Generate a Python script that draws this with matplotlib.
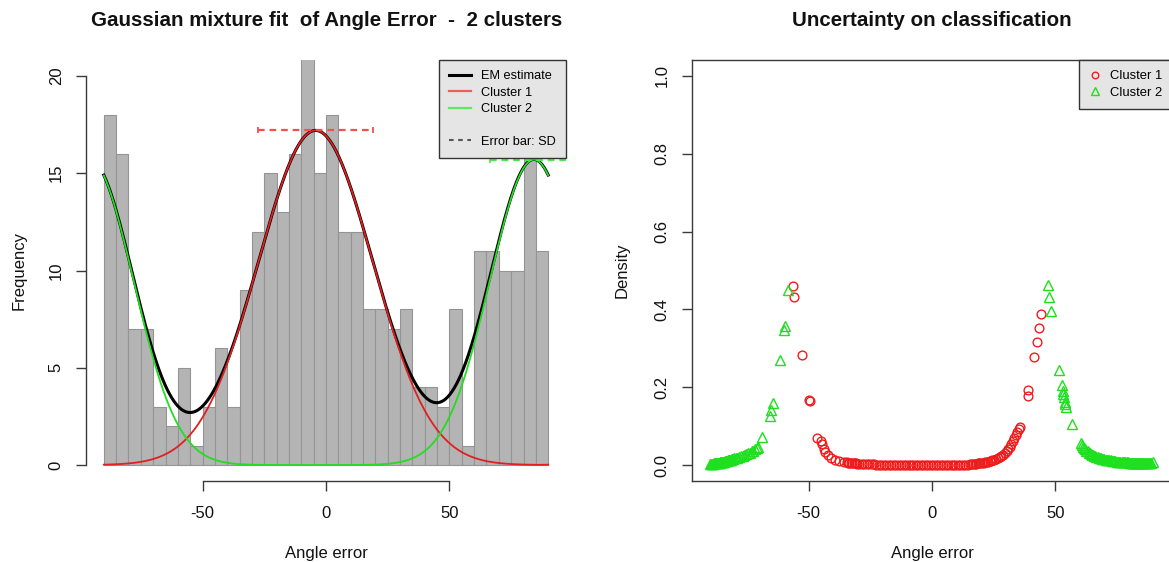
import numpy as np
import matplotlib
matplotlib.use("Agg")
import matplotlib.pyplot as plt
from matplotlib.lines import Line2D

plt.rcParams['font.family'] = ['Liberation Sans', 'DejaVu Sans']
plt.rcParams['axes.unicode_minus'] = False

# ---------------- data ----------------
left_title = "Gaussian mixture fit  of Angle Error  -  2 clusters"
right_title = "Uncertainty on classification"
x_label = "Angle error"

bin_edges = [-90, -85, -80, -75, -70, -65, -60, -55, -50, -45, -40, -35, -30, -25,
             -20, -15, -10, -5, 0, 5, 10, 15, 20, 25, 30, 35, 40, 45, 50, 55, 60,
             65, 70, 75, 80, 85, 90]
counts = [18, 16, 7, 7, 3, 2, 5, 1, 3, 6, 3, 9, 12, 15, 13, 16, 21, 15, 18, 12, 12,
          8, 8, 7, 8, 4, 4, 3, 8, 1, 11, 11, 10, 10, 16, 11]

# fitted mixture components: mean, sd, peak height
comp_names = ["Cluster 1", "Cluster 2"]
comp_mean = [-4.2, 84.2]
comp_sd = [23.2, 17.8]
comp_peak = [17.2, 15.7]
angle_period = 180.0

legend_left_labels = ["EM estimate", "Cluster 1", "Cluster 2", "", "Error bar: SD"]

# uncertainty scatter: cluster 2 (green triangles)
c2_x = [-89.8, -89.5, -89.2, -88.9, -88.6, -88.3, -88.0, -87.7, -87.4, -87.1, -86.8, -86.5,
        -86.2, -85.9, -85.7, -85.5, -85.3, -85.1,
        -84.8, -84.5, -84.2, -83.9, -83.6, -83.3, -83.0, -82.7, -82.4, -82.1, -81.8, -81.5,
        -81.2, -80.9, -80.6, -80.3,
        -79.5, -78.8, -78.1, -77.4, -76.7, -76.0, -75.3,
        -74.5, -73.8, -73.1, -72.4, -71.7, -71.0, -70.3,
        -68.9, -65.6, -65.1, -64.4, -61.5, -59.8, -59.6, -58.2,
        46.8, 47.5, 48.2,
        51.6, 52.5, 53.0, 53.2, 53.5, 53.8, 54.0, 54.2,
        56.6,
        60.2, 60.6, 61.0, 61.5, 62.0, 62.5, 63.0, 63.5, 64.0, 64.4, 64.8,
        65.3, 65.7, 66.2, 66.6, 67.1, 67.5, 68.0, 68.4, 68.9, 69.3, 69.7,
        70.3, 70.8, 71.3, 71.8, 72.3, 72.8, 73.3, 73.8, 74.3, 74.8,
        75.3, 75.8, 76.3, 76.8, 77.3, 77.8, 78.3, 78.8, 79.3, 79.8,
        80.2, 80.5, 80.8, 81.1, 81.4, 81.7, 82.0, 82.3, 82.6, 82.9, 83.2, 83.5, 83.8, 84.1,
        84.4, 84.7,
        85.2, 85.6, 86.0, 86.4, 86.8, 87.2, 87.6, 88.0, 88.4, 88.8, 89.4]
c2_u = [0.002, 0.002, 0.003, 0.003, 0.003, 0.004, 0.004, 0.004, 0.005, 0.005, 0.005, 0.006,
        0.006, 0.006, 0.007, 0.007, 0.007, 0.008,
        0.008, 0.009, 0.009, 0.010, 0.010, 0.011, 0.011, 0.012, 0.012, 0.013, 0.013, 0.014,
        0.015, 0.015, 0.016, 0.017,
        0.018, 0.019, 0.021, 0.022, 0.024, 0.026, 0.028,
        0.030, 0.032, 0.035, 0.037, 0.040, 0.043, 0.047,
        0.073, 0.125, 0.142, 0.160, 0.270, 0.348, 0.358, 0.449,
        0.464, 0.432, 0.395,
        0.245, 0.206, 0.190, 0.182, 0.176, 0.163, 0.157, 0.150,
        0.106,
        0.056, 0.052, 0.047, 0.043, 0.040, 0.037, 0.035, 0.032, 0.030, 0.028, 0.026,
        0.025, 0.024, 0.022, 0.021, 0.020, 0.019, 0.018, 0.017, 0.016, 0.015, 0.015,
        0.014, 0.013, 0.013, 0.012, 0.012, 0.011, 0.011, 0.010, 0.010, 0.009,
        0.009, 0.009, 0.008, 0.008, 0.008, 0.007, 0.007, 0.007, 0.007, 0.006,
        0.006, 0.006, 0.006, 0.006, 0.006, 0.005, 0.005, 0.005, 0.005, 0.005, 0.005, 0.005,
        0.005, 0.005, 0.005, 0.005,
        0.005, 0.005, 0.005, 0.005, 0.005, 0.005, 0.005, 0.005, 0.005, 0.006, 0.007]

# uncertainty scatter: cluster 1 (red circles)
c1_x = [-56.1, -55.7, -52.8, -49.8, -49.6, -46.6,
        -45.0, -44.6, -43.9, -43.2, -42.0, -40.8,
        -39.4, -37.6, -35.8,
        -34.6, -34.0, -33.5, -32.9, -32.3, -31.7, -31.2, -30.7, -30.2,
        -29.5, -28.5, -27.5, -26.5, -25.5, -24.5, -23.5, -22.5, -21.5, -20.5,
        -19.5, -18.5, -17.5, -16.5, -15.5, -14.5, -13.5, -12.5, -11.5, -10.5,
        -9.5, -8.5, -7.5, -6.5, -5.5, -4.5, -3.5, -2.5, -1.5, -0.5,
        0.5, 1.5, 2.5, 3.5, 4.5, 5.5, 6.5, 7.5, 8.5, 9.5,
        10.5, 11.5, 12.5, 13.5, 14.5,
        15.5, 16.1, 16.8, 17.4, 18.0, 18.6, 19.1, 19.6,
        20.3, 20.9, 21.5, 22.1, 22.7, 23.3, 23.9, 24.5,
        25.3, 26.0, 26.7, 27.4, 28.1, 28.8, 29.5,
        30.2, 30.8, 31.5, 32.1, 32.8, 33.4, 34.0, 34.6,
        35.2, 35.6, 38.8, 39.0,
        41.4, 42.4, 43.3, 44.0]
c1_u = [0.461, 0.432, 0.283, 0.168, 0.165, 0.070,
        0.062, 0.053, 0.041, 0.034, 0.025, 0.019,
        0.014, 0.010, 0.008,
        0.007, 0.006, 0.006, 0.005, 0.005, 0.004, 0.004, 0.004, 0.003,
        0.003, 0.003, 0.002, 0.002, 0.002, 0.002, 0.002, 0.001, 0.001, 0.001,
        0.001, 0.001, 0.001, 0.001, 0.001, 0.001, 0.001, 0.001, 0.001, 0.001,
        0.000, 0.000, 0.000, 0.000, 0.000, 0.000, 0.000, 0.000, 0.000, 0.000,
        0.000, 0.000, 0.000, 0.000, 0.000, 0.000, 0.000, 0.000, 0.000, 0.000,
        0.001, 0.001, 0.001, 0.001, 0.001,
        0.002, 0.002, 0.003, 0.003, 0.003, 0.004, 0.004, 0.005,
        0.005, 0.006, 0.007, 0.008, 0.009, 0.010, 0.011, 0.012,
        0.014, 0.016, 0.018, 0.021, 0.024, 0.027, 0.030,
        0.035, 0.040, 0.047, 0.053, 0.061, 0.069, 0.078, 0.086,
        0.092, 0.097, 0.178, 0.193,
        0.277, 0.315, 0.352, 0.387]

# ---------------- styling ----------------
RED = '#EE1C1C'
GREEN = '#1EE01E'
AXC = '#3A3A3A'
W, H = 1169, 562

fig = plt.figure(figsize=(W / 100, H / 100), dpi=100)
fig.patch.set_facecolor('white')

def px_rect(x0, x1, ytop, ybot):
    return [x0 / W, 1 - ybot / H, (x1 - x0) / W, (ybot - ytop) / H]

ax1 = fig.add_axes(px_rect(86, 566, 60.4, 480.6))
ax2 = fig.add_axes(px_rect(692, 1172, 60.4, 480.6))

# ---------------- left: histogram + mixture ----------------
edges = np.array(bin_edges, dtype=float)
ax1.bar(edges[:-1], counts, width=np.diff(edges), align='edge',
        color='#B4B4B4', edgecolor='#949494', linewidth=0.8, zorder=1)

xs = np.linspace(edges[0], edges[-1], 600)

def component(k, x):
    d = np.abs(x - comp_mean[k])
    d = np.minimum(d, angle_period - d)
    return comp_peak[k] * np.exp(-0.5 * (d / comp_sd[k]) ** 2)

y1 = component(0, xs)
y2 = component(1, xs)
ax1.plot(xs, y1 + y2, color='black', lw=2.2, zorder=3)
ax1.plot(xs, y1, color='#E02020', lw=1.3, zorder=4)
ax1.plot(xs, y2, color='#22DD22', lw=1.3, zorder=4)

# SD error bars
for k, col in zip(range(2), ['#F25050', '#4EE84E']):
    lo, hi = comp_mean[k] - comp_sd[k], comp_mean[k] + comp_sd[k]
    ax1.plot([lo, hi], [comp_peak[k], comp_peak[k]], color=col, lw=1.6,
             ls=(0, (3.0, 2.2)), zorder=5)
    ax1.plot([lo, hi], [comp_peak[k], comp_peak[k]], ls='none', marker='|',
             ms=5, mew=1.3, color=col, zorder=5)

ax1.set_xlim(-97.2, 97.2)
ax1.set_ylim(-0.8, 20.8)
for s in ['top', 'right']:
    ax1.spines[s].set_visible(False)
ax1.spines['left'].set_bounds(0, 20)
ax1.spines['bottom'].set_bounds(-50, 50)
ax1.set_xticks([-50, 0, 50])
ax1.set_yticks([0, 5, 10, 15, 20])

handles = [Line2D([], [], color='black', lw=2.2),
           Line2D([], [], color='#E86060', lw=1.6),
           Line2D([], [], color='#60E860', lw=1.6),
           Line2D([], [], color='none'),
           Line2D([], [], color='#555555', lw=1.5, ls=(0, (2.2, 2.2)))]
leg1 = ax1.legend(handles, legend_left_labels, loc='upper right', borderaxespad=0,
                  fontsize=9.2, frameon=True, fancybox=False, handlelength=1.7,
                  handletextpad=0.8, labelspacing=0.34, borderpad=0.78)
leg1.get_frame().set_facecolor('#E5E5E5')
leg1.get_frame().set_edgecolor('#333333')
leg1.get_frame().set_linewidth(1.0)
leg1.get_frame().set_alpha(1)
leg1.set_zorder(10)

# ---------------- right: uncertainty ----------------
ax2.plot(c1_x, c1_u, ls='none', marker='o', ms=6.3, mfc='none', mec=RED, mew=1.0,
         label=comp_names[0])
ax2.plot(c2_x, c2_u, ls='none', marker='^', ms=6.8, mfc='none', mec=GREEN, mew=1.0,
         label=comp_names[1])
ax2.set_xlim(-97.2, 97.2)
ax2.set_ylim(-0.04, 1.04)
ax2.set_xticks([-50, 0, 50])
ax2.set_yticks([0.0, 0.2, 0.4, 0.6, 0.8, 1.0])
ax2.set_yticklabels(['0.0', '0.2', '0.4', '0.6', '0.8', '1.0'])
leg2 = ax2.legend(loc='upper right', borderaxespad=0, fontsize=9.4, frameon=True,
                  fancybox=False, handlelength=1.0, handletextpad=0.6,
                  labelspacing=0.34, borderpad=0.76, markerscale=0.75)
leg2.get_frame().set_facecolor('#E5E5E5')
leg2.get_frame().set_edgecolor('#333333')
leg2.get_frame().set_linewidth(1.0)
leg2.get_frame().set_alpha(1)

# ---------------- common axis styling ----------------
for ax in (ax1, ax2):
    for s in ax.spines.values():
        s.set_color(AXC)
        s.set_linewidth(1.0)
    ax.tick_params(direction='out', length=7, width=1.0, color=AXC,
                   labelsize=12, labelcolor='#111111')
    ax.tick_params(axis='x', pad=11)
    ax.tick_params(axis='y', pad=9, labelrotation=90)
    for lab in ax.get_yticklabels():
        lab.set_va('center')
    ax.set_xlabel(x_label, fontsize=12, labelpad=18, color='#111111')

ax1.set_ylabel("Frequency", fontsize=12, labelpad=16, color='#111111')
ax2.set_ylabel("Density", fontsize=12, labelpad=18, color='#111111')

fig.text((88 + 566) / 2 / W, 1 - 20 / H, left_title, ha='center', va='center',
         fontsize=14.8, fontweight='bold', color='#111111')
fig.text((692 + 1172) / 2 / W, 1 - 20 / H, right_title, ha='center', va='center',
         fontsize=14.8, fontweight='bold', color='#111111')

fig.savefig('out.png', dpi=100)
